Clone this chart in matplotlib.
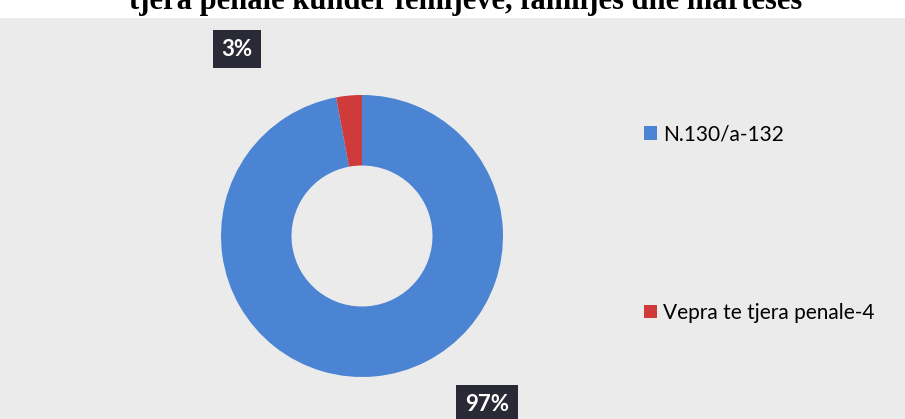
import matplotlib.pyplot as plt
from matplotlib.patches import Rectangle

labels = ['N.130/a-132', 'Vepra te tjera penale-4']
values = [132, 4]
pct_labels = ['97%', '3%']
colors = ['#4a84d2', '#cf3b3b']
title = 'tjera penale kundër fëmijëve, familjes dhe martesës'

fig = plt.figure(figsize=(9.05, 4.19), dpi=100, facecolor='white')

# grey page background of the chart area
fig.patches.append(Rectangle((0, 0), 1, 1 - 18 / 419, transform=fig.transFigure,
                             facecolor='#ebebeb', edgecolor='none', zorder=-10))

# title, cut off at the top
fig.text(466 / 905, 1 - 9 / 419, title, ha='center', va='baseline',
         family='Liberation Serif', fontweight='bold', fontsize=22, color='black')

# donut
ax = fig.add_axes([(362 - 141) / 905, (183 - 141) / 419, 282 / 905, 282 / 419])
ax.patch.set_visible(False)
wedges, _ = ax.pie(values, colors=colors, startangle=90, counterclock=False,
                   radius=1, wedgeprops=dict(width=0.5, edgecolor='none'))
ax.set_xlim(-1, 1)
ax.set_ylim(-1, 1)
ax.set_aspect('equal')
ax.axis('off')

# data labels in dark boxes
box = dict(boxstyle='square,pad=0.4', facecolor='#2a2a36', edgecolor='none')
fig.text(487 / 905, 1 - 404 / 419, pct_labels[0], ha='center', va='center',
         family='Lato', fontweight='bold', fontsize=16, color='white', bbox=box)
fig.text(237 / 905, 1 - 49 / 419, pct_labels[1], ha='center', va='center',
         family='Lato', fontweight='bold', fontsize=16, color='white', bbox=box)

fig.legend(wedges, labels, loc='upper left', bbox_to_anchor=(636 / 905, 1 - 116 / 419),
           frameon=False, prop=dict(family='Lato', size=15),
           handlelength=0.6, handleheight=0.6, handletextpad=0.3,
           labelspacing=7.6, borderaxespad=0)

fig.savefig('out.png', dpi=100)
